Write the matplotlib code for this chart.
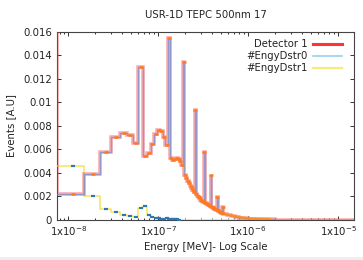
import numpy as np
import matplotlib
matplotlib.use("Agg")
import matplotlib.pyplot as plt
from matplotlib.lines import Line2D
from matplotlib.patches import Rectangle
from matplotlib.ticker import FixedLocator, LogLocator, NullFormatter

# ---------------- data ----------------
BIN_WIDTH = 7.5e-9          # MeV, linear bins [k*w, (k+1)*w]
N_FINE = 69                 # fine bins k = 1..69

# #EngyDstr0 / Detector 1 : bins k = 1..69
engy0_vals = [0.00216, 0.00390, 0.00578, 0.00700, 0.00738, 0.00718, 0.00651, 0.01303,
              0.00543, 0.00566, 0.00646, 0.00731, 0.00766, 0.00754, 0.00703, 0.00634,
              0.01550, 0.00528, 0.00512, 0.00516, 0.00522, 0.00518, 0.00500, 0.00462,
              0.01340, 0.00380, 0.00352, 0.00330, 0.00310, 0.00290, 0.00272, 0.00255, 0.00235,
              0.00935, 0.00215, 0.00200, 0.00190, 0.00180, 0.00170, 0.00162, 0.00155, 0.00150,
              0.00580, 0.00145, 0.00140, 0.00135, 0.00130, 0.00125, 0.00120, 0.00115,
              0.00380, 0.00110, 0.00105, 0.00100, 0.00097, 0.00093, 0.00090, 0.00086, 0.00082,
              0.00190, 0.00078, 0.00074, 0.00070, 0.00067, 0.00064, 0.00060, 0.00057, 0.00055,
              0.00110]

# tail (coarser reading), edges in MeV
tail_edges = [5.25e-7, 5.8e-7, 6.5e-7, 7.2e-7, 8.0e-7, 9.0e-7, 1.0e-6, 1.2e-6, 1.5e-6, 2.0e-6, 1.5e-5]
tail_vals = [0.00048, 0.00038, 0.00030, 0.00023, 0.00017, 0.00012, 0.00008, 0.00005, 0.00002, 0.0]

# Detector 1: same histogram plus an off-scale first value (vertical line on left edge)
det1_offscale = 0.03

# #EngyDstr1 : bins k = 1..22, zero afterwards
engy1_vals = [0.00455, 0.00198, 0.00091, 0.00062, 0.00040, 0.00027, 0.00021, 0.00097,
              0.00112, 0.00040, 0.00018, 0.00012, 0.00010, 0.00008, 0.00006, 0.00010,
              0.00005, 0.00003, 0.00004, 0.00002, 0.00001, 0.0]

title = "USR-1D TEPC 500nm 17"
xlabel = "Energy [MeV]- Log Scale"
ylabel = "Events [A.U]"
xticks = [1e-8, 1e-7, 1e-6, 1e-5]
xticklabels = [r"1x10$^{-8}$", r"1x10$^{-7}$", r"1x10$^{-6}$", r"1x10$^{-5}$"]
yticks = [0, 0.002, 0.004, 0.006, 0.008, 0.01, 0.012, 0.014, 0.016]
yticklabels = ["0", "0.002", "0.004", "0.006", "0.008", "0.01", "0.012", "0.014", "0.016"]
legend_labels = ["Detector 1", "#EngyDstr0", "#EngyDstr1"]

# ---------------- build arrays ----------------
fine_edges = np.arange(1, N_FINE + 2) * BIN_WIDTH
edges = np.concatenate([fine_edges, np.array(tail_edges[1:])])
vals = np.concatenate([np.array(engy0_vals), np.array(tail_vals)])

step_x = edges
step_y = np.append(vals, vals[-1])

fine_centers = 0.5 * (fine_edges[:-1] + fine_edges[1:])

e1_edges = np.arange(1, len(engy1_vals) + 2) * BIN_WIDTH
e1_x = np.append(e1_edges, tail_edges[-1])
e1_y = np.append(np.append(engy1_vals, 0.0), 0.0)
e1_centers = 0.5 * (e1_edges[:-1] + e1_edges[1:])

# ---------------- figure ----------------
plt.rcParams["font.family"] = ["DejaVu Sans"]
fs = 7.3
W, H = 363, 260
fig = plt.figure(figsize=(W / 100, H / 100), dpi=100)
fig.patch.set_facecolor("white")
fig.patches.append(Rectangle((0, 0), 1, 3 / H, transform=fig.transFigure,
                             facecolor="#eeeeee", edgecolor="none"))

L, R, T, B = 57, 354, 32, 219.5
ax = fig.add_axes([L / W, (H - B) / H, (R - L) / W, (B - T) / H])
ax.set_xscale("log")
ax.set_xlim(7.5e-9, 1.5e-5)
ax.set_ylim(0, 0.016)

# Detector 1 (translucent thick red)
det_x = np.concatenate([[edges[0]], step_x])
det_y = np.concatenate([[det1_offscale], step_y])
ax.plot(det_x, det_y, drawstyle="steps-post", color="#ff2a2a", alpha=0.4,
        lw=2.6, zorder=3, solid_joinstyle="miter")

# #EngyDstr1 (yellow) with blue marks
ax.plot(e1_x, e1_y, drawstyle="steps-post", color="#f4e45a", lw=1.1, zorder=2.6)
ax.plot(e1_centers, engy1_vals, ls="none", marker="_", ms=3.2, mew=1.6,
        color="#2a78b8", zorder=2.7)

# #EngyDstr0 (blue, blends with the red halo)
ax.plot(step_x, step_y, drawstyle="steps-post", color="#6f94d8", alpha=0.75,
        lw=1.0, zorder=3.2)

# orange marks on EngyDstr0
ax.plot(fine_centers, engy0_vals, ls="none", marker="_", ms=3.4, mew=1.8,
        color="#ff7a1e", zorder=4)
tail_mid = np.sqrt(np.array(tail_edges[:-2]) * np.array(tail_edges[1:-1]))
ax.plot(np.concatenate([[fine_centers[-1]], tail_mid]),
        np.concatenate([[engy0_vals[-1] * 0.5], tail_vals[:-1]]),
        color="#ff8a1e", lw=1.8, zorder=3.9, alpha=0.9)

# ticks
ax.xaxis.set_major_locator(FixedLocator(xticks))
ax.set_xticklabels(xticklabels)
ax.xaxis.set_minor_locator(LogLocator(base=10, subs=np.arange(2, 10)))
ax.xaxis.set_minor_formatter(NullFormatter())
ax.set_yticks(yticks)
ax.set_yticklabels(yticklabels)
ax.tick_params(which="both", direction="in", top=True, right=True,
               labelsize=fs, colors="#333333", labelcolor="#222222", width=0.7)
ax.tick_params(which="major", length=3.0, pad=3.5)
ax.tick_params(which="minor", length=1.6)
for s in ax.spines.values():
    s.set_color("#444444")
    s.set_linewidth(0.8)

ax.set_xlabel(xlabel, fontsize=fs, color="#222222", labelpad=3)
ax.set_ylabel(ylabel, fontsize=fs, color="#222222", labelpad=5)
fig.text((L + R) / 2 / W, 1 - 15 / H, title, ha="center", va="center",
         fontsize=fs, color="#222222")

# legend (gnuplot-like, text right-aligned, sample on right)
leg_styles = [dict(color="#ff3535", lw=2.2),
              dict(color="#8ccaf0", lw=1.1),
              dict(color="#f8ec78", lw=1.6)]
rows_y = [0.934, 0.872, 0.806]
for lab, st, yy in zip(legend_labels, leg_styles, rows_y):
    ax.text(0.845, yy, lab, transform=ax.transAxes, ha="right", va="center",
            fontsize=fs, color="#222222")
    ax.add_line(Line2D([0.862, 0.960], [yy, yy], transform=ax.transAxes, **st))

fig.savefig("out.png", dpi=100)
